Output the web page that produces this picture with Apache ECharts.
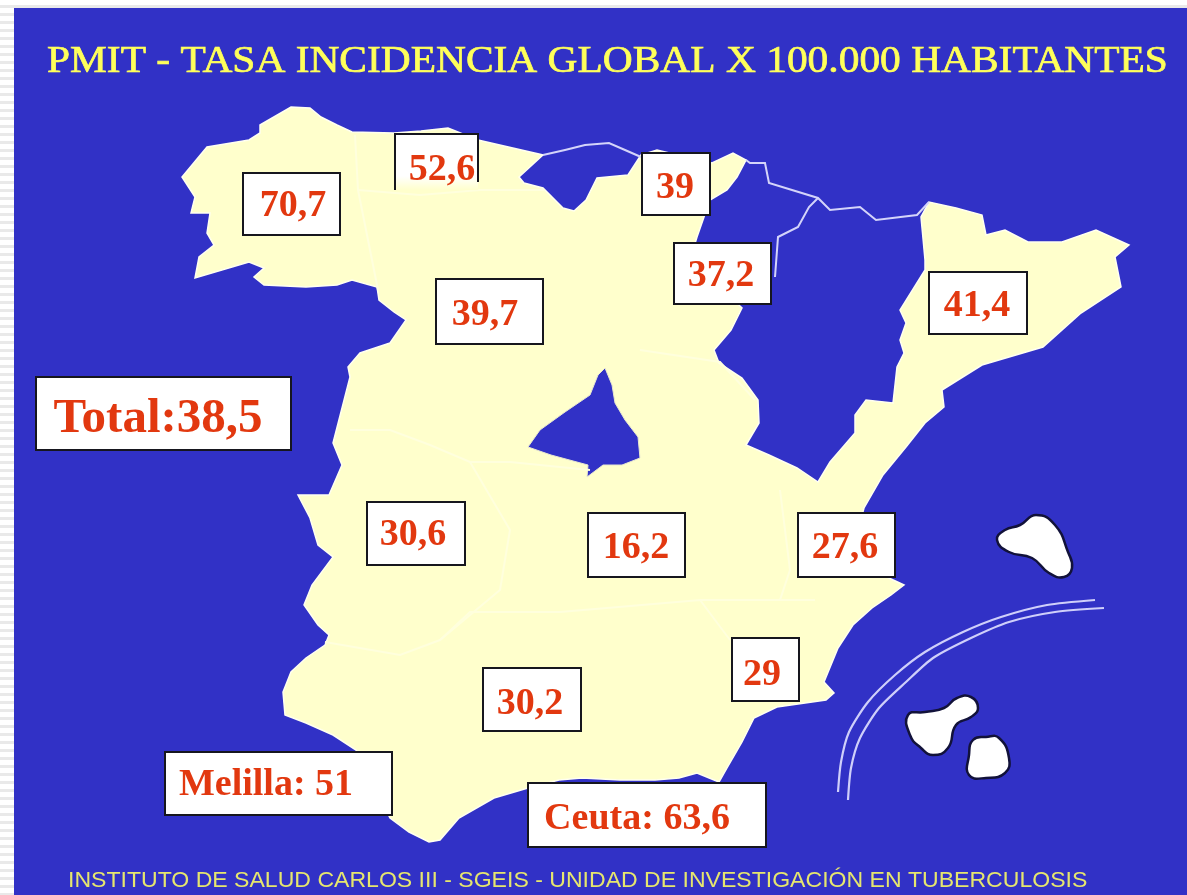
<!DOCTYPE html>
<html><head><meta charset="utf-8">
<script src="https://cdn.jsdelivr.net/npm/echarts@6/dist/echarts.min.js"></script>
<style>
html,body{margin:0;padding:0;background:#fff;overflow:hidden;}
#c{width:1187px;height:895px;filter:blur(0.6px);background:repeating-linear-gradient(to bottom,#fff 0,#fff 5px,#e9e9e9 5px,#e9e9e9 8px);}
</style></head><body><div id="c"></div>
<script>
// ---- data ----
const labelNames = ['Galicia','Asturias','País Vasco','La Rioja','Castilla y León','Cataluña','Extremadura','Castilla-La Mancha','C. Valenciana','Murcia','Andalucía','Total','Melilla','Ceuta'];
const labelValues = [70.7,52.6,39,37.2,39.7,41.4,30.6,16.2,27.6,29,30.2,38.5,51,63.6];
const labelPrefixes = ['','','','','','','','','','','','Total:','Melilla: ','Ceuta: '];
const titleText = 'PMIT - TASA INCIDENCIA GLOBAL X 100.000 HABITANTES';
const footerText = 'INSTITUTO DE SALUD CARLOS III - SGEIS - UNIDAD DE INVESTIGACIÓN EN TUBERCULOSIS';

// ---- map geometry (picture-space outline) ----
const mainland = [[260,125],[291,107],[310,108],[321,117],[337,125],[352,132],[394,133],[421,131],[448,128],[478,140],[543,155],[519,177],[524,183],[543,188],[563,208],[574,211],[586,200],[597,178],[628,175],[641,155],[657,150],[712,163],[733,153],[746,160],[737,177],[727,190],[710,200],[704,217],[697,237],[690,260],[742,308],[731,330],[714,350],[719,363],[742,378],[758,400],[759,423],[746,445],[769,455],[797,468],[818,482],[830,462],[855,433],[855,415],[866,400],[893,403],[897,367],[904,353],[900,340],[906,323],[900,310],[925,270],[925,260],[921,217],[929,202],[956,208],[982,215],[986,235],[1005,230],[1028,242],[1062,242],[1096,230],[1129,245],[1115,257],[1121,287],[1081,313],[1043,347],[982,365],[942,390],[944,407],[925,423],[906,447],[883,475],[864,508],[850,560],[904,585],[891,595],[872,608],[853,625],[838,648],[824,682],[834,693],[826,700],[777,707],[754,718],[742,742],[727,768],[719,782],[697,773],[679,778],[655,780],[620,780],[582,778],[559,780],[528,788],[494,798],[459,818],[440,840],[429,842],[409,832],[390,818],[356,750],[333,735],[306,723],[285,715],[283,692],[291,672],[306,658],[325,645],[329,635],[318,625],[304,605],[312,585],[333,557],[318,545],[310,518],[298,495],[329,495],[342,465],[333,443],[350,377],[348,367],[360,353],[390,343],[406,320],[394,312],[379,300],[377,287],[352,280],[337,285],[306,287],[264,285],[254,277],[264,268],[249,262],[195,278],[199,257],[214,245],[207,233],[210,213],[191,213],[195,197],[182,177],[207,147],[249,140],[260,133],[260,125]];
const madrid = [[605,368],[612,385],[615,403],[625,420],[638,437],[640,458],[622,465],[603,465],[587,477],[588,465],[551,455],[528,447],[540,430],[565,412],[590,395],[598,375],[605,368]];
const isleA = [[1036,515],[1055,525],[1068,552],[1072,568],[1064,577],[1049,573],[1032,558],[1009,552],[997,540],[1005,530],[1020,525]];
const isleB = [[971,697],[978,708],[971,717],[956,725],[948,748],[933,755],[921,748],[910,735],[908,715],[925,712],[944,708],[957,698]];
const isleC = [[986,737],[999,738],[1009,758],[1005,773],[986,778],[969,775],[969,755],[973,740]];
const pageFrame = [[0,0],[1187,0],[1187,895],[0,895],[0,0]];
const seaFrame = [[14,8],[1187,8],[1187,895],[14,895],[14,8]];

// lavender frontier lines and inset arcs
const whiteLines = [
 [[543,155],[565,150],[585,145],[609,143],[625,150],[641,157]],
 [[746,160],[750,163],[765,163],[769,183],[792,190],[818,198],[830,210],[860,207],[876,220],[917,215],[929,202]],
 [[818,198],[809,207],[798,227],[778,237],[775,277]]
];
const arcOuter = [[1095,600],[1047,605],[1001,617],[963,632],[925,652],[895,675],[868,702],[849,732],[841,762],[838,792]];
const arcInner = [[1104,608],[1055,612],[1009,622],[971,638],[933,658],[906,682],[879,708],[860,738],[851,768],[848,800]];
// faint region borders on the cream land
const faintLines = [
 [[355,135],[358,190],[370,250],[378,290]],
 [[358,190],[420,195],[480,190],[545,190]],
 [[350,430],[390,430],[430,445],[470,462],[510,462],[590,470]],
 [[470,462],[510,530],[500,590],[440,640],[400,655],[325,642]],
 [[440,640],[470,612],[560,612],[700,600],[730,640]],
 [[640,350],[720,362],[755,400]],
 [[780,490],[790,570],[780,600],[815,600]],
 [[700,600],[780,600]]
];

// label boxes: x0,y0,x1,y1, text centre x,y, font size (picture space)
const labelBoxes = [
 [243,173,340,235,293,206,38],
 [395,134,478,190,442,170,38],
 [642,153,710,215,675,188,38],
 [674,243,771,304,721,276,38],
 [436,279,543,344,485,315,38],
 [929,272,1027,334,977,306,38],
 [367,502,465,565,413,535,38],
 [588,513,685,577,636,548,38],
 [798,513,895,577,845,548,38],
 [732,638,799,701,762,675,38],
 [483,668,581,731,530,704,38],
 [36,377,291,450,158,419,49],
 [165,752,392,815,266,785,38],
 [528,783,766,847,637,819,38]
];

const feat = (name,ring)=>({type:'Feature',properties:{name},geometry:{type:'Polygon',coordinates:[ring]}});
echarts.registerMap('iberia',{type:'FeatureCollection',features:[
 feat('page',pageFrame),feat('sea',seaFrame),feat('mainland',mainland),feat('madrid',madrid)]});

const BLUE='#3131C6', CREAM='#FFFFCC', RED='#E2380F', YELLOW='#FFFF5A';
const chart=echarts.init(document.getElementById('c'),null,{renderer:'canvas'});
const asLines=a=>a.map(c=>({coords:c}));
const shapes=[
 {pts:arcOuter,kind:'line'},{pts:arcInner,kind:'line'},
 {pts:isleA,kind:'isle'},{pts:isleB,kind:'isle'},{pts:isleC,kind:'isle'}
];
chart.setOption({
 animation:false,
 backgroundColor:'transparent',
 geo:{map:'iberia',silent:true,left:0,top:0,width:1187,height:895,roam:false,
  projection:{project:p=>[p[0],p[1]],unproject:p=>[p[0],p[1]]},
  label:{show:false},
  itemStyle:{areaColor:CREAM,borderColor:'#fffff0',borderWidth:1.5},
  emphasis:{disabled:true},
  regions:[
   {name:'page',itemStyle:{areaColor:'rgba(255,255,255,0)',borderWidth:0}},
   {name:'sea',itemStyle:{areaColor:BLUE,borderWidth:0}},
   {name:'mainland',itemStyle:{areaColor:CREAM,borderColor:'#fffff0',borderWidth:1.5}},
   {name:'madrid',itemStyle:{areaColor:BLUE,borderColor:'#e8e8d0',borderWidth:1}}
  ]},
 graphic:[
  {type:'text',x:47,y:43,scaleX:1.09,z:100,silent:true,style:{text:titleText,fill:YELLOW,stroke:YELLOW,lineWidth:0.7,fontFamily:'Liberation Serif',fontSize:38}},
  {type:'text',x:68,y:870,scaleX:1.048,z:100,silent:true,style:{text:footerText,fill:'#E6E66E',fontFamily:'Liberation Sans',fontSize:22}}
 ],
 series:[
  {type:'lines',coordinateSystem:'geo',polyline:true,silent:true,z:3,lineStyle:{color:'#FFFFDD',width:2,opacity:1},data:asLines(faintLines)},
  {type:'lines',coordinateSystem:'geo',polyline:true,silent:true,z:4,lineStyle:{color:'#D4D4FA',width:2,opacity:1},data:asLines(whiteLines)},
  {type:'custom',coordinateSystem:'geo',silent:true,z:5,
   data:shapes.map(s=>({value:s.pts[0]})),
   renderItem:(params,api)=>{
    const s=shapes[params.dataIndex],pts=s.pts.map(p=>api.coord(p));
    return s.kind==='line'
     ? {type:'polyline',shape:{points:pts,smooth:0.25},style:{fill:null,stroke:'#CFCFFA',lineWidth:2.2}}
     : {type:'polygon',shape:{points:pts,smooth:0.5},style:{fill:'#fff',stroke:'#12123a',lineWidth:2.5}};
   }},
  {type:'custom',coordinateSystem:'geo',silent:true,z:6,
   data:labelNames.map((n,i)=>({name:n,value:[labelBoxes[i][4],labelBoxes[i][5],labelValues[i]]})),
   renderItem:(params,api)=>{
    const i=params.dataIndex,b=labelBoxes[i];
    const a=api.coord([b[0],b[1]]),z=api.coord([b[2],b[3]]),t=api.coord([b[4],b[5]]);
    const txt=labelPrefixes[i]+String(labelValues[i]).replace('.',',');
    const kids=[];
    if(labelNames[i]==='Asturias'){
     kids.push({type:'rect',shape:{x:a[0],y:a[1],width:z[0]-a[0],height:z[1]-a[1]},
       style:{fill:{type:'linear',x:0,y:0,x2:0,y2:1,colorStops:[{offset:0,color:'#fff'},{offset:.75,color:'#fff'},{offset:1,color:CREAM}]}}});
     kids.push({type:'polyline',shape:{points:[[a[0],z[1]],[a[0],a[1]],[z[0],a[1]],[z[0],z[1]-8]]},style:{fill:null,stroke:'#16161e',lineWidth:2}});
    } else {
     kids.push({type:'rect',shape:{x:a[0],y:a[1],width:z[0]-a[0],height:z[1]-a[1]},style:{fill:'#fff',stroke:'#16161e',lineWidth:2}});
    }
    kids.push({type:'text',style:{text:txt,x:t[0],y:t[1],align:'center',verticalAlign:'middle',fill:RED,fontFamily:'Liberation Serif',fontWeight:'bold',fontSize:b[6]}});
    return {type:'group',children:kids};
   }}
 ]
});
</script></body></html>
